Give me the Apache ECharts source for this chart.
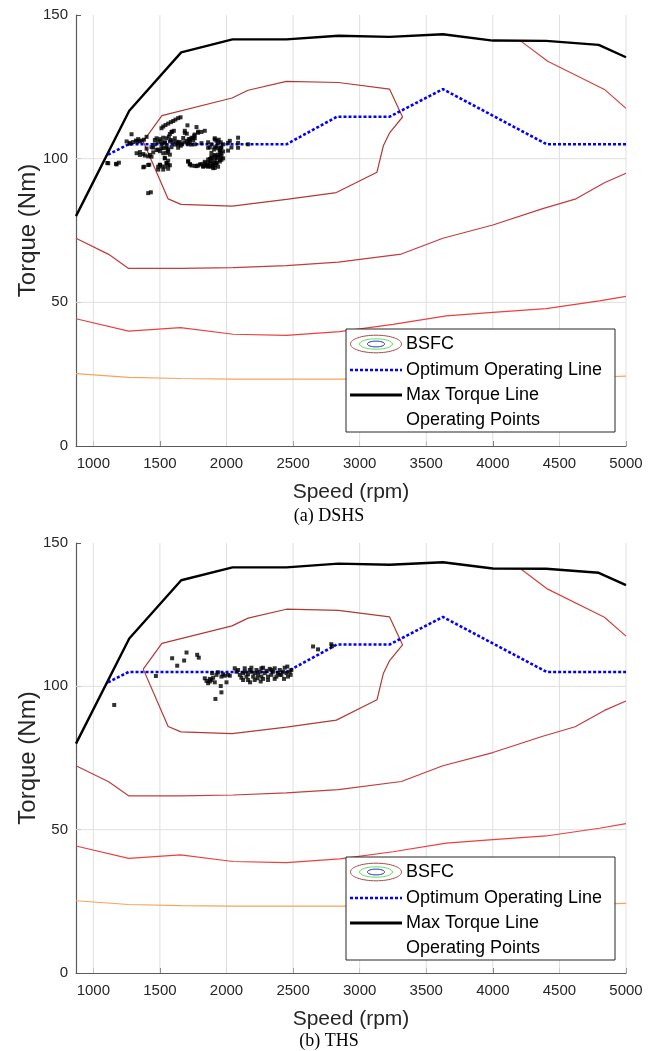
<!DOCTYPE html>
<html>
<head>
<meta charset="utf-8">
<script src="https://cdn.jsdelivr.net/npm/echarts@6/dist/echarts.min.js"></script>
<style>
html,body{margin:0;padding:0;background:#fff;}
#chart{width:657px;height:1051px;}
</style>
</head>
<body>
<div id="chart"></div>
<script>
// ---------- data ----------
const speedTicks = [1000,1500,2000,2500,3000,3500,4000,4500,5000];
const torqueGrid = [50,100];

const maxTorqueSpeed = [870,1270,1660,2045,2450,2840,3225,3625,4000,4400,4795,5000];
const maxTorque      = [80,116.7,137,141.5,141.5,142.8,142.4,143.3,141.1,141,139.6,135.3];

const optSpeed  = [1110,1265,2450,2830,3225,3625,4405,5000];
const optTorque = [101.4,105,105,114.6,114.6,124.2,105,105];

// BSFC contours
const bsfc1Speed  = [1375,1515,2042,2162,2450,2840,3225,3322,3225,3178,3130,2825,2450,2042,1658,1562,1375];
const bsfc1Torque = [106,115,121.1,123.8,126.9,126.5,124.2,114.5,109,104.5,95.3,88.2,85.8,83.5,84.1,86,106];

const bsfc2Speed  = [870,1115,1265,1660,2050,2450,2840,3313,3625,4000,4375,4618,4838,5000];
const bsfc2Torque = [72.3,66.7,61.8,61.8,62.1,62.8,64,66.8,72.3,76.9,82.6,85.9,91.6,94.9];

const bsfc3Speed  = [870,1265,1655,2050,2450,2850,3250,3650,4000,4400,4800,5000];
const bsfc3Torque = [44.3,40,41.2,38.9,38.5,39.8,42.3,45.3,46.5,47.8,50.5,52.1];

const bsfc4Speed  = [870,1265,1660,2050,2450,2850,3250,3650,4050,4450,4850,5000];
const bsfc4Torque = [25.2,23.9,23.5,23.3,23.3,23.3,23.4,23.5,23.6,23.8,24.1,24.3];

const bsfc5Speed  = [4208,4412,4838,5000];
const bsfc5Torque = [141,133.9,124.1,117.5];

// Operating points (a) DSHS
const dshsSpeed = [1512,1525,1542,1562,1582,1600,1617,1637,1655,1592,1605,1287,1400,1337,1320,1300,1275,1350,
 1462,1475,1487,1500,1525,1550,1567,1582,1612,1625,1537,1512,1462,1637,
 1687,1702,1775,1837,1787,1757,1737,1717,1700,1682,1667,1657,1762,1725,1750,
 1912,1925,1942,1957,1975,2025,2087,2162,2037,1912,1875,1937,
 1325,1350,1387,1425,1382,1412,1525,1537,1550,1562,1537,1500,1487,1550,1562,1512,1450,1475,1437,
 1712,1725,1737,1787,1812,1837,1862,1887,1912,1925,1937,1950,1962,1950,1912,1887,1875,1850,1900,1925,1962,1975,1950,1937,1900,1862,1912,1887,1875,1975,1957,1825,1762,
 1112,1175,1192,1412,1432,1712,1762,1812,1862,1887,
 1105,1170,1250,1275,1330,1362,1380,1350,1375,1412,1450,1400,1437,1375,1420,1575,1587,
 1487,1500,1525,1550,1562,1587,1612,1637,1512,1537,1575,1600,1550,1575,1537,1562,1550,1512,1487,1525,1500,1575,1562,
 1707,1687,1762,1787,1812,1750,1725,1712,1675,1650,1737,1637,
 1912,1937,1925,1907,1887,1862,2012,2087,2087,2012,1962,1950,
 1712,1725,1800,1837,1862,1887,1912,1937,1925,1900,1875,1850,1912,1825,1775,1950,1962];
const dshsTorque = [110.6,111.2,111.7,112.2,112.7,113.1,113.6,114.1,114.4,109.4,109.7,108.5,107.6,106.8,106.3,105.8,105.2,106,
 106.5,107.1,105.9,106.8,107.3,107.1,107.7,106.5,107.1,105.9,105.7,105,105,105,
 109.7,108.7,111,109.7,109.4,108,107.3,106.8,106.2,105.7,105,104.5,107.1,105.9,106.5,
 107.1,106.2,106.6,105.7,105,106.2,107.3,105,103.9,103.9,103.9,103.6,
 101.9,101.3,101.1,101.3,97.2,97.8,101.9,100.1,98.4,97.8,97.2,97.8,97.2,103.6,102.5,103.6,103.9,103,100.7,
 99,98.1,97.6,97.6,98.1,98.4,98.7,99.2,99.6,100.1,100.7,101.3,101.9,103,97.8,97.2,98.4,97.8,98.4,98.4,99.6,100.1,99,97.2,96.7,97.2,101.3,100.7,99.9,102.5,103.9,97.2,97.5,
 98.4,98,98.6,88,88.3,105,105,105.4,105.7,105,
 98.5,98.2,106,105.5,106,106.3,106.6,102.3,101.6,100.8,102.2,103.5,104,97,97.9,108.6,109.3,
 103.2,102.6,103.7,104.3,103.2,104,104.9,105.5,106,105.5,106,106,102,101.4,100.3,99.3,98.5,97.3,96.2,96.2,97.9,97.7,96.5,
 111.6,109,108.4,109,109.3,107.2,106.7,105.5,107.2,105.8,104.9,103.8,
 106.7,105.5,104.3,103.2,102,103.8,105.5,105.5,103.8,102.8,103.8,102.6,
 99.1,98,98,98.9,99.7,100.3,100.9,101.4,98.5,98,97.4,97.4,96.8,97.4,97.4,99.7,100.9];

// Operating points (b) THS
const thsSpeed = [1157,1470,1592,1630,1682,1700,1780,1792,2650,2687,2787,2792,
 1837,1850,1862,1875,1887,1900,1912,1892,1925,1937,1962,1975,1987,2000,2012,2025,1957,1962,1917,1875,
 2062,2075,2087,2100,2112,2125,2137,2150,2162,2175,2177,2187,2200,2212,2225,2232,2237,2250,2257,2262,
 2275,2287,2300,2312,2325,2337,2350,2362,2375,2387,2400,2412,2425,2432,2437,2450,2457,2462,2475,2482,2487,
 2362,2312,2275,2212,2162,2125,2137,2187,2262,2337,2400];
const thsTorque = [93.5,103.6,109.8,107.2,109,111.8,111,110,113.9,112.9,114.7,114,
 102.8,101.9,101.1,101.7,102.2,103,101.4,104.6,104,104.9,103.4,104.2,103.7,101.4,104,103.7,100.1,97.9,95.6,102.6,
 106.3,105.1,105.7,104,103,104.6,105.1,103.4,104.2,105.7,101.4,105.1,103.4,104.6,105.7,102.8,104,105.1,101.7,103.4,
 106.5,104.6,105.4,103.4,106.1,104,105.1,106.3,103.4,104.6,105.7,104,105.1,102.6,106.5,104.6,106.9,103.4,105.1,104,105.7,
 102.6,102.2,102.6,102.2,102.2,102.2,106.3,106.5,106.3,105.7,104];

// ---------- helpers ----------
const FONT = "'Liberation Sans', Arial, Helvetica, sans-serif";
const zip = (xs, ys) => xs.map((x, i) => [x, ys[i]]);
const gridTops = [15, 543];
const gridHeights = [431, 430];

function lineSeries(gi, xs, ys, color, width, extra) {
  return Object.assign({
    type: 'line', xAxisIndex: gi, yAxisIndex: gi,
    data: zip(xs, ys), symbol: 'none', silent: true, animation: false,
    lineStyle: { color: color, width: width }, z: 3
  }, extra || {});
}

function seriesFor(gi, ptsX, ptsY) {
  const s = [];
  speedTicks.forEach(v => s.push(lineSeries(gi, [v, v], [0, 150], '#dfdfdf', 1, { z: 1 })));
  torqueGrid.forEach(v => s.push(lineSeries(gi, [870, 5000], [v, v], '#dfdfdf', 1, { z: 1 })));
  s.push(lineSeries(gi, bsfc4Speed, bsfc4Torque, '#f7a35c', 1.2));
  s.push(lineSeries(gi, bsfc3Speed, bsfc3Torque, '#e8413f', 1.2));
  s.push(lineSeries(gi, bsfc2Speed, bsfc2Torque, '#c23b3e', 1.2));
  s.push(lineSeries(gi, bsfc5Speed, bsfc5Torque, '#d2423c', 1.2));
  s.push(lineSeries(gi, bsfc1Speed, bsfc1Torque, '#b03a35', 1.2));
  s.push(lineSeries(gi, maxTorqueSpeed, maxTorque, '#000000', 2.4, { z: 4 }));
  s.push(lineSeries(gi, optSpeed, optTorque, '#0000ff', 2.6, { z: 5, lineStyle: { color: '#0000ff', width: 2.6, type: [3, 2] } }));
  s.push({
    type: 'scatter', xAxisIndex: gi, yAxisIndex: gi, data: zip(ptsX, ptsY),
    symbol: 'rect', symbolSize: 4, itemStyle: { color: '#000' }, silent: true, animation: false, z: 6
  });
  return s;
}

function legendGraphic(oy) {
  const y0 = oy + 314;
  const rows = [oy + 329, oy + 355, oy + 380, oy + 405];
  const txt = (t, y) => ({ type: 'text', x: 406, y: y, z: 101,
    style: { text: t, fill: '#000', font: '18px ' + FONT, textVerticalAlign: 'middle', verticalAlign: 'middle' } });
  return [
    { type: 'rect', z: 100, shape: { x: 346, y: y0, width: 269, height: 103 },
      style: { fill: '#fff', stroke: '#262626', lineWidth: 1 } },
    { type: 'ellipse', z: 101, shape: { cx: 376, cy: rows[0], rx: 25.5, ry: 8.8 }, style: { fill: 'none', stroke: '#a94a45', lineWidth: 1 } },
    { type: 'ellipse', z: 101, shape: { cx: 376, cy: rows[0], rx: 16.5, ry: 5.2 }, style: { fill: 'none', stroke: '#66dd66', lineWidth: 1 } },
    { type: 'ellipse', z: 101, shape: { cx: 376, cy: rows[0], rx: 8.6, ry: 2.9 }, style: { fill: 'none', stroke: '#2233bb', lineWidth: 1 } },
    { type: 'line', z: 101, shape: { x1: 350, y1: rows[1], x2: 402, y2: rows[1] }, style: { stroke: '#0000ff', lineWidth: 2.4, lineDash: [3, 2] } },
    { type: 'line', z: 101, shape: { x1: 350, y1: rows[2], x2: 402, y2: rows[2] }, style: { stroke: '#000', lineWidth: 3 } },
    txt('BSFC', rows[0]),
    txt('Optimum Operating Line', rows[1]),
    txt('Max Torque Line', rows[2]),
    txt('Operating Points', rows[3])
  ];
}

function xAxisFor(gi) {
  return {
    type: 'value', gridIndex: gi, min: 870, max: 5000,
    name: 'Speed (rpm)', nameLocation: 'middle', nameGap: 36, nameMoveOverlap: false,
    nameTextStyle: { fontFamily: FONT, fontSize: 21, color: '#262626' },
    axisLine: { show: true, onZero: false, lineStyle: { color: '#5a5a5a', width: 1.2 } },
    axisTick: { show: true, inside: true, length: 5, customValues: speedTicks, lineStyle: { color: '#5a5a5a' } },
    axisLabel: { customValues: speedTicks, formatter: v => String(v), fontFamily: FONT, fontSize: 15, color: '#262626', margin: 10 },
    splitLine: { show: false }
  };
}
function yAxisFor(gi) {
  return {
    type: 'value', gridIndex: gi, min: 0, max: 150, interval: 50,
    name: 'Torque (Nm)', nameLocation: 'middle', nameGap: 36, nameMoveOverlap: false,
    nameTextStyle: { fontFamily: FONT, fontSize: 24, color: '#262626' },
    axisLine: { show: true, lineStyle: { color: '#5a5a5a', width: 1.2 } },
    axisTick: { show: true, inside: true, length: 5, lineStyle: { color: '#5a5a5a' } },
    axisLabel: { fontFamily: FONT, fontSize: 15, color: '#262626', margin: 8 },
    splitLine: { show: false }
  };
}

const chart = echarts.init(document.getElementById('chart'), null, { renderer: 'canvas' });
chart.setOption({
  animation: false,
  backgroundColor: '#fff',
  grid: [
    { left: 76, top: gridTops[0], width: 550, height: gridHeights[0] },
    { left: 76, top: gridTops[1], width: 550, height: gridHeights[1] }
  ],
  xAxis: [xAxisFor(0), xAxisFor(1)],
  yAxis: [yAxisFor(0), yAxisFor(1)],
  series: seriesFor(0, dshsSpeed, dshsTorque).concat(seriesFor(1, thsSpeed, thsTorque)),
  graphic: legendGraphic(gridTops[0]).concat(legendGraphic(gridTops[1])).concat([
    { type: 'text', x: 329, y: 516, z: 101, style: { text: '(a) DSHS', fill: '#000', font: "18px 'Liberation Serif', 'Times New Roman', serif", align: 'center', verticalAlign: 'middle' } },
    { type: 'text', x: 329, y: 1041, z: 101, style: { text: '(b) THS', fill: '#000', font: "18px 'Liberation Serif', 'Times New Roman', serif", align: 'center', verticalAlign: 'middle' } }
  ])
});
</script>
</body>
</html>
